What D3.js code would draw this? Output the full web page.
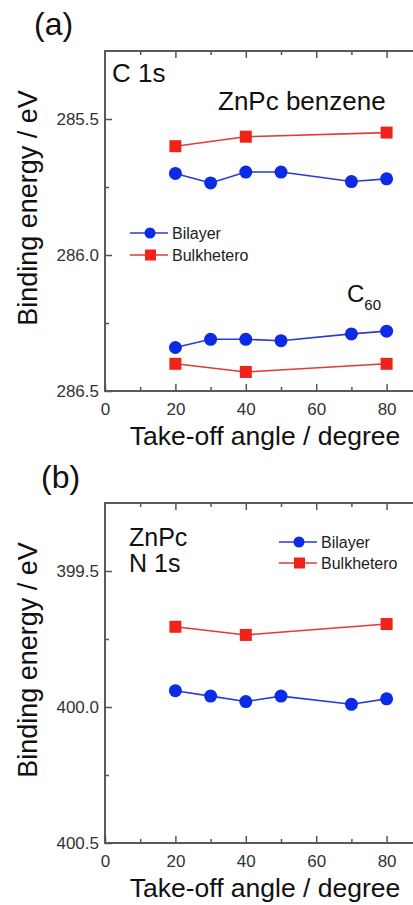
<!DOCTYPE html>
<meta charset="utf-8">
<style>
body{margin:0;background:#fff;}
svg{display:block;font-family:"Liberation Sans",Arial,sans-serif;}
.tick text{fill:#333;font-size:17px;}
.tick line{stroke:#555;stroke-width:1.5px;}
.frame{fill:none;stroke:#5a5a5a;stroke-width:2px;}
.title{fill:#111;}
</style>
<body>
<script src="https://cdn.jsdelivr.net/npm/d3@7"></script>
<script>

// take-off angles (degree)
var anglesBilayer=[20,30,40,50,70,80];
var anglesBulk=[20,40,80];

// (a) C 1s binding energies (eV)
var benzBilayer=[285.70,285.735,285.695,285.695,285.73,285.72];
var benzBulk=[285.60,285.565,285.55];
var c60Bilayer=[286.34,286.31,286.31,286.315,286.29,286.28];
var c60Bulk=[286.40,286.43,286.40];

// (b) N 1s binding energies (eV)
var n1sBilayer=[399.94,399.96,399.98,399.96,399.99,399.97];
var n1sBulk=[399.705,399.735,399.695];

var xTicks=[0,20,40,60,80];
var xMinor=[10,30,50,70];
var yTicksA=[285.5,286.0,286.5], yMinorA=[285.75,286.25];
var yTicksB=[399.5,400.0,400.5], yMinorB=[399.75,400.25];

var blue="#0b2be6", blueLine="#2a3ad6";
var red="#f0221a", redLine="#e23a34";

var W=413,H=905;
var svg=d3.select("body").append("svg").attr("width",W).attr("height",H);

var x=d3.scaleLinear().domain([0,90]).range([105,421.8]);

function pair(xs,ys){ return xs.map((v,i)=>[v,ys[i]]); }

function panel(top,bottom,ydom,yt,ym,series,legend){
	var y=d3.scaleLinear().domain(ydom).range([top,bottom]);
	var g=svg.append("g");

	// frame
	g.append("rect").attr("class","frame")
		.attr("x",x(0)).attr("y",top)
		.attr("width",x(90)-x(0)).attr("height",bottom-top);

	// axes, ticks inward
	g.append("g").attr("transform","translate(0,"+bottom+")")
		.call(d3.axisBottom(x).tickValues(xTicks).tickSize(-7).tickPadding(12).tickFormat(d3.format("d")))
		.call(a=>a.select(".domain").remove());
	g.append("g").attr("transform","translate(0,"+bottom+")")
		.call(d3.axisBottom(x).tickValues(xMinor).tickSize(-4).tickFormat(""))
		.call(a=>a.select(".domain").remove());
	g.append("g").attr("transform","translate(0,"+top+")")
		.call(d3.axisTop(x).tickValues(xTicks.slice(1)).tickSize(-7).tickFormat(""))
		.call(a=>a.select(".domain").remove());
	g.append("g").attr("transform","translate(0,"+top+")")
		.call(d3.axisTop(x).tickValues(xMinor).tickSize(-4).tickFormat(""))
		.call(a=>a.select(".domain").remove());
	g.append("g").attr("transform","translate("+x(0)+",0)")
		.call(d3.axisLeft(y).tickValues(yt).tickSize(-7).tickPadding(6).tickFormat(d3.format(".1f")))
		.call(a=>a.select(".domain").remove());
	g.append("g").attr("transform","translate("+x(0)+",0)")
		.call(d3.axisLeft(y).tickValues(ym).tickSize(-4).tickFormat(""))
		.call(a=>a.select(".domain").remove());

	var line=d3.line().x(d=>x(d[0])).y(d=>y(d[1]));
	series.forEach(function(s){
		var pts=pair(s.xs,s.ys);
		g.append("path").attr("d",line(pts)).attr("fill","none")
			.attr("stroke",s.circle?blueLine:redLine).attr("stroke-width",1.6);
		if(s.circle){
			g.selectAll(null).data(pts).enter().append("circle")
				.attr("cx",d=>x(d[0])).attr("cy",d=>y(d[1])).attr("r",6.5).attr("fill",blue);
		}else{
			g.selectAll(null).data(pts).enter().append("rect")
				.attr("x",d=>x(d[0])-6).attr("y",d=>y(d[1])-6)
				.attr("width",12).attr("height",12).attr("fill",red);
		}
	});

	// legend
	[["Bilayer",true],["Bulkhetero",false]].forEach(function(it,i){
		var ly=legend.y+i*legend.dy;
		g.append("line").attr("x1",legend.x).attr("x2",legend.x+38)
			.attr("y1",ly).attr("y2",ly)
			.attr("stroke",it[1]?blueLine:redLine).attr("stroke-width",1.6);
		if(it[1]) g.append("circle").attr("cx",legend.x+20).attr("cy",ly).attr("r",5.5).attr("fill",blue);
		else g.append("rect").attr("x",legend.x+15).attr("y",ly-5.5).attr("width",11).attr("height",11).attr("fill",red);
		g.append("text").attr("x",legend.x+42).attr("y",ly).attr("dy","0.35em")
			.attr("font-size",16).attr("fill","#222").text(it[0]);
	});

	// axis titles
	g.append("text").attr("class","title")
		.attr("transform","translate(37,"+((top+bottom)/2-13)+") rotate(-90)")
		.attr("text-anchor","middle").attr("font-size",27).text("Binding energy / eV");
	g.append("text").attr("class","title")
		.attr("x",265).attr("y",bottom+54)
		.attr("text-anchor","middle").attr("font-size",26.5).text("Take-off angle / degree");
	return g;
}

var ga=panel(51,391,[285.25,286.5],yTicksA,yMinorA,[
	{xs:anglesBulk,ys:benzBulk},
	{xs:anglesBilayer,ys:benzBilayer,circle:true},
	{xs:anglesBilayer,ys:c60Bilayer,circle:true},
	{xs:anglesBulk,ys:c60Bulk}
],{x:130,y:233,dy:22});

var gb=panel(503,843,[399.25,400.5],yTicksB,yMinorB,[
	{xs:anglesBulk,ys:n1sBulk},
	{xs:anglesBilayer,ys:n1sBilayer,circle:true}
],{x:279,y:542,dy:21});

// panel letters and annotations
svg.append("text").attr("class","title").attr("x",34).attr("y",35).attr("font-size",32).text("(a)");
svg.append("text").attr("class","title").attr("x",41).attr("y",488).attr("font-size",32).text("(b)");

ga.append("text").attr("class","title").attr("x",112).attr("y",82).attr("font-size",26).text("C 1s");
ga.append("text").attr("class","title").attr("x",218).attr("y",110).attr("font-size",26).text("ZnPc benzene");
var c60=ga.append("text").attr("class","title").attr("x",347).attr("y",302).attr("font-size",24);
c60.append("tspan").text("C");
c60.append("tspan").attr("font-size",15).attr("dy",8).text("60");

gb.append("text").attr("class","title").attr("x",129).attr("y",546).attr("font-size",25).text("ZnPc");
gb.append("text").attr("class","title").attr("x",129).attr("y",572).attr("font-size",25).text("N 1s");

</script>
</body>
